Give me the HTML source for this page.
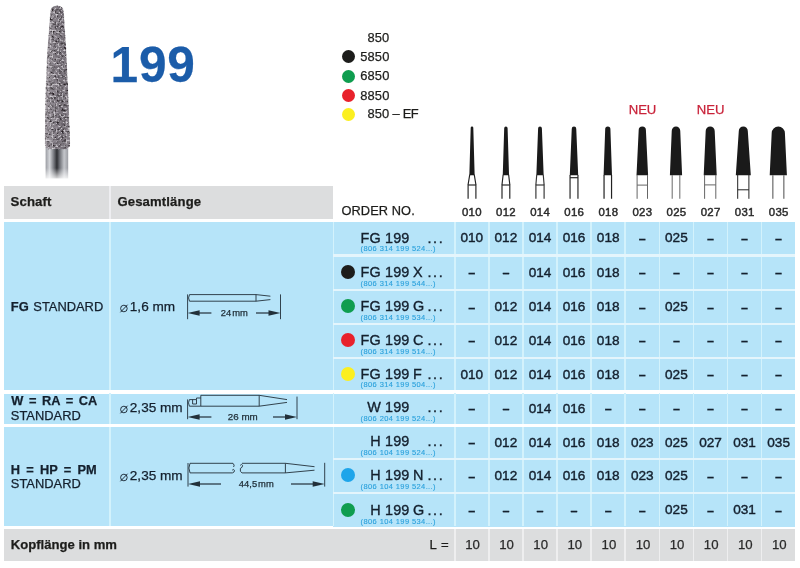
<!DOCTYPE html>
<html lang="de"><head><meta charset="utf-8"><title>199</title>
<style>
html,body{margin:0;padding:0;background:#fff}
body{width:800px;height:568px;position:relative;overflow:hidden;font-family:"Liberation Sans", Arial, Helvetica, sans-serif;}
.r{position:absolute}
.a{position:absolute;overflow:visible}
.t{position:absolute;white-space:nowrap;line-height:20px;height:20px;-webkit-text-stroke:0.25px currentColor}
</style></head><body>
<div class="r" style="left:4.00px;top:186.00px;width:328.80px;height:33.40px;background:#dcddde"></div>
<div class="r" style="left:108.80px;top:186.00px;width:2.20px;height:33.40px;background:#eeeef1"></div>
<div class="r" style="left:4.00px;top:222.20px;width:329.00px;height:168.20px;background:#b6e4f9"></div>
<div class="r" style="left:4.00px;top:393.50px;width:329.00px;height:30.50px;background:#b6e4f9"></div>
<div class="r" style="left:4.00px;top:427.30px;width:329.00px;height:99.20px;background:#b6e4f9"></div>
<div class="r" style="left:333.00px;top:222.20px;width:461.60px;height:32.20px;background:#b6e4f9"></div>
<div class="r" style="left:333.00px;top:256.80px;width:461.60px;height:32.20px;background:#b6e4f9"></div>
<div class="r" style="left:333.00px;top:291.00px;width:461.60px;height:32.00px;background:#b6e4f9"></div>
<div class="r" style="left:333.00px;top:324.80px;width:461.60px;height:32.20px;background:#b6e4f9"></div>
<div class="r" style="left:333.00px;top:358.90px;width:461.60px;height:31.50px;background:#b6e4f9"></div>
<div class="r" style="left:333.00px;top:393.50px;width:461.60px;height:30.50px;background:#b6e4f9"></div>
<div class="r" style="left:333.00px;top:427.30px;width:461.60px;height:30.90px;background:#b6e4f9"></div>
<div class="r" style="left:333.00px;top:460.20px;width:461.60px;height:31.80px;background:#b6e4f9"></div>
<div class="r" style="left:333.00px;top:494.00px;width:461.60px;height:32.50px;background:#b6e4f9"></div>
<div class="r" style="left:4.00px;top:528.80px;width:790.60px;height:32.00px;background:#dcddde"></div>
<div class="r" style="left:109.40px;top:222.20px;width:1.60px;height:304.30px;background:#d3f2fc"></div>
<div class="r" style="left:332.80px;top:222.20px;width:1.50px;height:304.30px;background:#d3f2fc"></div>
<div class="r" style="left:453.95px;top:222.20px;width:1.60px;height:304.30px;background:#d3f2fc"></div>
<div class="r" style="left:453.95px;top:528.80px;width:1.60px;height:32.00px;background:#eeeeef"></div>
<div class="r" style="left:488.05px;top:222.20px;width:1.60px;height:304.30px;background:#d3f2fc"></div>
<div class="r" style="left:488.05px;top:528.80px;width:1.60px;height:32.00px;background:#eeeeef"></div>
<div class="r" style="left:522.15px;top:222.20px;width:1.60px;height:304.30px;background:#d3f2fc"></div>
<div class="r" style="left:522.15px;top:528.80px;width:1.60px;height:32.00px;background:#eeeeef"></div>
<div class="r" style="left:556.25px;top:222.20px;width:1.60px;height:304.30px;background:#d3f2fc"></div>
<div class="r" style="left:556.25px;top:528.80px;width:1.60px;height:32.00px;background:#eeeeef"></div>
<div class="r" style="left:590.35px;top:222.20px;width:1.60px;height:304.30px;background:#d3f2fc"></div>
<div class="r" style="left:590.35px;top:528.80px;width:1.60px;height:32.00px;background:#eeeeef"></div>
<div class="r" style="left:624.45px;top:222.20px;width:1.60px;height:304.30px;background:#d3f2fc"></div>
<div class="r" style="left:624.45px;top:528.80px;width:1.60px;height:32.00px;background:#eeeeef"></div>
<div class="r" style="left:658.55px;top:222.20px;width:1.60px;height:304.30px;background:#d3f2fc"></div>
<div class="r" style="left:658.55px;top:528.80px;width:1.60px;height:32.00px;background:#eeeeef"></div>
<div class="r" style="left:692.65px;top:222.20px;width:1.60px;height:304.30px;background:#d3f2fc"></div>
<div class="r" style="left:692.65px;top:528.80px;width:1.60px;height:32.00px;background:#eeeeef"></div>
<div class="r" style="left:726.75px;top:222.20px;width:1.60px;height:304.30px;background:#d3f2fc"></div>
<div class="r" style="left:726.75px;top:528.80px;width:1.60px;height:32.00px;background:#eeeeef"></div>
<div class="r" style="left:760.85px;top:222.20px;width:1.60px;height:304.30px;background:#d3f2fc"></div>
<div class="r" style="left:760.85px;top:528.80px;width:1.60px;height:32.00px;background:#eeeeef"></div>
<div class="r" style="left:4.00px;top:390.40px;width:791.60px;height:3.10px;background:#fff"></div>
<div class="r" style="left:4.00px;top:424.00px;width:791.60px;height:3.30px;background:#fff"></div>
<div class="r" style="left:4.00px;top:526.50px;width:791.60px;height:2.30px;background:#fff"></div>
<div class="r" style="left:333.00px;top:254.40px;width:461.60px;height:2.40px;background:#e4f5fc"></div>
<div class="r" style="left:333.00px;top:289.00px;width:461.60px;height:2.00px;background:#e4f5fc"></div>
<div class="r" style="left:333.00px;top:323.00px;width:461.60px;height:1.80px;background:#e4f5fc"></div>
<div class="r" style="left:333.00px;top:357.00px;width:461.60px;height:1.90px;background:#e4f5fc"></div>
<div class="r" style="left:333.00px;top:458.20px;width:461.60px;height:2.00px;background:#e4f5fc"></div>
<div class="r" style="left:333.00px;top:492.00px;width:461.60px;height:2.00px;background:#e4f5fc"></div>
<div class="t" style="left:10.60px;top:191.80px;font-size:13.2px;font-weight:700;color:#1d1d1b;letter-spacing:0.1px;">Schaft</div>
<div class="t" style="left:117.40px;top:191.80px;font-size:13.1px;font-weight:700;color:#1d1d1b;letter-spacing:0.15px;">Gesamtlänge</div>
<div class="t" style="left:341.40px;top:200.80px;font-size:12.8px;font-weight:400;color:#1d1d1b;letter-spacing:0.1px;">ORDER NO.</div>
<div class="t" style="left:371.95px;width:200px;text-align:center;top:201.50px;font-size:11.4px;font-weight:400;color:#2b2b2b;letter-spacing:0.3px;-webkit-text-stroke:0.45px;">010</div>
<div class="t" style="left:406.05px;width:200px;text-align:center;top:201.50px;font-size:11.4px;font-weight:400;color:#2b2b2b;letter-spacing:0.3px;-webkit-text-stroke:0.45px;">012</div>
<div class="t" style="left:440.15px;width:200px;text-align:center;top:201.50px;font-size:11.4px;font-weight:400;color:#2b2b2b;letter-spacing:0.3px;-webkit-text-stroke:0.45px;">014</div>
<div class="t" style="left:474.25px;width:200px;text-align:center;top:201.50px;font-size:11.4px;font-weight:400;color:#2b2b2b;letter-spacing:0.3px;-webkit-text-stroke:0.45px;">016</div>
<div class="t" style="left:508.35px;width:200px;text-align:center;top:201.50px;font-size:11.4px;font-weight:400;color:#2b2b2b;letter-spacing:0.3px;-webkit-text-stroke:0.45px;">018</div>
<div class="t" style="left:542.45px;width:200px;text-align:center;top:201.50px;font-size:11.4px;font-weight:400;color:#2b2b2b;letter-spacing:0.3px;-webkit-text-stroke:0.45px;">023</div>
<div class="t" style="left:576.55px;width:200px;text-align:center;top:201.50px;font-size:11.4px;font-weight:400;color:#2b2b2b;letter-spacing:0.3px;-webkit-text-stroke:0.45px;">025</div>
<div class="t" style="left:610.65px;width:200px;text-align:center;top:201.50px;font-size:11.4px;font-weight:400;color:#2b2b2b;letter-spacing:0.3px;-webkit-text-stroke:0.45px;">027</div>
<div class="t" style="left:644.75px;width:200px;text-align:center;top:201.50px;font-size:11.4px;font-weight:400;color:#2b2b2b;letter-spacing:0.3px;-webkit-text-stroke:0.45px;">031</div>
<div class="t" style="left:678.77px;width:200px;text-align:center;top:201.50px;font-size:11.4px;font-weight:400;color:#2b2b2b;letter-spacing:0.3px;-webkit-text-stroke:0.45px;">035</div>
<div class="t" style="left:10.80px;top:534.60px;font-size:13.1px;font-weight:700;color:#1d1d1b;">Kopflänge in mm</div>
<div class="t" style="left:148.80px;width:300px;text-align:right;top:535.40px;font-size:13.2px;font-weight:400;color:#1d1d1b;word-spacing:1px;">L =</div>
<div class="t" style="left:372.50px;width:200px;text-align:center;top:535.40px;font-size:13.2px;font-weight:400;color:#2a2a2a;">10</div>
<div class="t" style="left:406.60px;width:200px;text-align:center;top:535.40px;font-size:13.2px;font-weight:400;color:#2a2a2a;">10</div>
<div class="t" style="left:440.70px;width:200px;text-align:center;top:535.40px;font-size:13.2px;font-weight:400;color:#2a2a2a;">10</div>
<div class="t" style="left:474.80px;width:200px;text-align:center;top:535.40px;font-size:13.2px;font-weight:400;color:#2a2a2a;">10</div>
<div class="t" style="left:508.90px;width:200px;text-align:center;top:535.40px;font-size:13.2px;font-weight:400;color:#2a2a2a;">10</div>
<div class="t" style="left:543.00px;width:200px;text-align:center;top:535.40px;font-size:13.2px;font-weight:400;color:#2a2a2a;">10</div>
<div class="t" style="left:577.10px;width:200px;text-align:center;top:535.40px;font-size:13.2px;font-weight:400;color:#2a2a2a;">10</div>
<div class="t" style="left:611.20px;width:200px;text-align:center;top:535.40px;font-size:13.2px;font-weight:400;color:#2a2a2a;">10</div>
<div class="t" style="left:645.30px;width:200px;text-align:center;top:535.40px;font-size:13.2px;font-weight:400;color:#2a2a2a;">10</div>
<div class="t" style="left:679.33px;width:200px;text-align:center;top:535.40px;font-size:13.2px;font-weight:400;color:#2a2a2a;">10</div>
<div class="t" style="left:10.80px;top:296.80px;font-size:12.9px;font-weight:400;color:#14202e;word-spacing:1px;"><b>FG</b> STANDARD</div>
<div class="t" style="left:11.20px;top:391.30px;font-size:12.8px;font-weight:400;color:#14202e;word-spacing:2.1px;"><b>W = RA = CA</b></div>
<div class="t" style="left:10.80px;top:406.30px;font-size:12.9px;font-weight:400;color:#14202e;">STANDARD</div>
<div class="t" style="left:10.80px;top:459.60px;font-size:12.8px;font-weight:400;color:#14202e;word-spacing:2.7px;"><b>H = HP = PM</b></div>
<div class="t" style="left:10.80px;top:473.80px;font-size:12.9px;font-weight:400;color:#14202e;">STANDARD</div>
<svg class="a" style="left:119.50px;top:301.80px" width="10" height="10" viewBox="0 0 10 10"><circle cx="3.9" cy="6.5" r="3.3" fill="none" stroke="#14202e" stroke-width="0.9"/><path d="M0.4 10.3 L7.6 2.7" stroke="#14202e" stroke-width="0.9"/></svg>
<div class="t" style="left:129.80px;top:296.80px;font-size:13.6px;font-weight:400;color:#14202e;">1,6 mm</div>
<svg class="a" style="left:119.50px;top:403.20px" width="10" height="10" viewBox="0 0 10 10"><circle cx="3.9" cy="6.5" r="3.3" fill="none" stroke="#14202e" stroke-width="0.9"/><path d="M0.4 10.3 L7.6 2.7" stroke="#14202e" stroke-width="0.9"/></svg>
<div class="t" style="left:129.80px;top:398.20px;font-size:13.6px;font-weight:400;color:#14202e;">2,35 mm</div>
<svg class="a" style="left:119.50px;top:471.30px" width="10" height="10" viewBox="0 0 10 10"><circle cx="3.9" cy="6.5" r="3.3" fill="none" stroke="#14202e" stroke-width="0.9"/><path d="M0.4 10.3 L7.6 2.7" stroke="#14202e" stroke-width="0.9"/></svg>
<div class="t" style="left:129.80px;top:466.30px;font-size:13.6px;font-weight:400;color:#14202e;">2,35 mm</div>
<div class="t" style="left:109.50px;width:300px;text-align:right;top:227.50px;font-size:14.4px;font-weight:400;color:#14202e;letter-spacing:0.15px;-webkit-text-stroke:0.35px;">FG 199</div>
<div class="t" style="left:427.40px;top:227.50px;font-size:14.4px;font-weight:400;color:#14202e;letter-spacing:1.7px;-webkit-text-stroke:0.35px;">...</div>
<div class="t" style="left:360.60px;top:239.40px;font-size:7.5px;font-weight:400;color:#2ba1dc;letter-spacing:0.39px;-webkit-text-stroke:0.12px;">(806 314 199 524...)</div>
<div class="t" style="left:371.80px;width:200px;text-align:center;top:228.20px;font-size:13.6px;font-weight:400;color:#14202e;-webkit-text-stroke:0.4px;">010</div>
<div class="t" style="left:405.90px;width:200px;text-align:center;top:228.20px;font-size:13.6px;font-weight:400;color:#14202e;-webkit-text-stroke:0.4px;">012</div>
<div class="t" style="left:440.00px;width:200px;text-align:center;top:228.20px;font-size:13.6px;font-weight:400;color:#14202e;-webkit-text-stroke:0.4px;">014</div>
<div class="t" style="left:474.10px;width:200px;text-align:center;top:228.20px;font-size:13.6px;font-weight:400;color:#14202e;-webkit-text-stroke:0.4px;">016</div>
<div class="t" style="left:508.20px;width:200px;text-align:center;top:228.20px;font-size:13.6px;font-weight:400;color:#14202e;-webkit-text-stroke:0.4px;">018</div>
<div class="t" style="left:542.30px;width:200px;text-align:center;top:228.80px;font-size:12.6px;font-weight:700;color:#14202e;">–</div>
<div class="t" style="left:576.40px;width:200px;text-align:center;top:228.20px;font-size:13.6px;font-weight:400;color:#14202e;-webkit-text-stroke:0.4px;">025</div>
<div class="t" style="left:610.50px;width:200px;text-align:center;top:228.80px;font-size:12.6px;font-weight:700;color:#14202e;">–</div>
<div class="t" style="left:644.60px;width:200px;text-align:center;top:228.80px;font-size:12.6px;font-weight:700;color:#14202e;">–</div>
<div class="t" style="left:678.62px;width:200px;text-align:center;top:228.80px;font-size:12.6px;font-weight:700;color:#14202e;">–</div>
<div class="t" style="left:109.50px;width:300px;text-align:right;top:262.10px;font-size:14.4px;font-weight:400;color:#14202e;letter-spacing:0.15px;-webkit-text-stroke:0.35px;">FG 199</div>
<div class="t" style="left:413.00px;top:262.10px;font-size:14.4px;font-weight:400;color:#14202e;-webkit-text-stroke:0.35px;">X</div>
<div class="t" style="left:427.40px;top:262.10px;font-size:14.4px;font-weight:400;color:#14202e;letter-spacing:1.7px;-webkit-text-stroke:0.35px;">...</div>
<div class="t" style="left:360.60px;top:274.00px;font-size:7.5px;font-weight:400;color:#2ba1dc;letter-spacing:0.39px;-webkit-text-stroke:0.12px;">(806 314 199 544...)</div>
<div class="r" style="left:340.60px;top:265.40px;width:14px;height:14px;border-radius:50%;background:#1d1d1b"></div>
<div class="t" style="left:371.80px;width:200px;text-align:center;top:263.40px;font-size:12.6px;font-weight:700;color:#14202e;">–</div>
<div class="t" style="left:405.90px;width:200px;text-align:center;top:263.40px;font-size:12.6px;font-weight:700;color:#14202e;">–</div>
<div class="t" style="left:440.00px;width:200px;text-align:center;top:262.80px;font-size:13.6px;font-weight:400;color:#14202e;-webkit-text-stroke:0.4px;">014</div>
<div class="t" style="left:474.10px;width:200px;text-align:center;top:262.80px;font-size:13.6px;font-weight:400;color:#14202e;-webkit-text-stroke:0.4px;">016</div>
<div class="t" style="left:508.20px;width:200px;text-align:center;top:262.80px;font-size:13.6px;font-weight:400;color:#14202e;-webkit-text-stroke:0.4px;">018</div>
<div class="t" style="left:542.30px;width:200px;text-align:center;top:263.40px;font-size:12.6px;font-weight:700;color:#14202e;">–</div>
<div class="t" style="left:576.40px;width:200px;text-align:center;top:263.40px;font-size:12.6px;font-weight:700;color:#14202e;">–</div>
<div class="t" style="left:610.50px;width:200px;text-align:center;top:263.40px;font-size:12.6px;font-weight:700;color:#14202e;">–</div>
<div class="t" style="left:644.60px;width:200px;text-align:center;top:263.40px;font-size:12.6px;font-weight:700;color:#14202e;">–</div>
<div class="t" style="left:678.62px;width:200px;text-align:center;top:263.40px;font-size:12.6px;font-weight:700;color:#14202e;">–</div>
<div class="t" style="left:109.50px;width:300px;text-align:right;top:296.10px;font-size:14.4px;font-weight:400;color:#14202e;letter-spacing:0.15px;-webkit-text-stroke:0.35px;">FG 199</div>
<div class="t" style="left:413.00px;top:296.10px;font-size:14.4px;font-weight:400;color:#14202e;-webkit-text-stroke:0.35px;">G</div>
<div class="t" style="left:427.40px;top:296.10px;font-size:14.4px;font-weight:400;color:#14202e;letter-spacing:1.7px;-webkit-text-stroke:0.35px;">...</div>
<div class="t" style="left:360.60px;top:308.00px;font-size:7.5px;font-weight:400;color:#2ba1dc;letter-spacing:0.39px;-webkit-text-stroke:0.12px;">(806 314 199 534...)</div>
<div class="r" style="left:340.60px;top:299.40px;width:14px;height:14px;border-radius:50%;background:#0f9d4f"></div>
<div class="t" style="left:371.80px;width:200px;text-align:center;top:297.50px;font-size:12.6px;font-weight:700;color:#14202e;">–</div>
<div class="t" style="left:405.90px;width:200px;text-align:center;top:296.90px;font-size:13.6px;font-weight:400;color:#14202e;-webkit-text-stroke:0.4px;">012</div>
<div class="t" style="left:440.00px;width:200px;text-align:center;top:296.90px;font-size:13.6px;font-weight:400;color:#14202e;-webkit-text-stroke:0.4px;">014</div>
<div class="t" style="left:474.10px;width:200px;text-align:center;top:296.90px;font-size:13.6px;font-weight:400;color:#14202e;-webkit-text-stroke:0.4px;">016</div>
<div class="t" style="left:508.20px;width:200px;text-align:center;top:296.90px;font-size:13.6px;font-weight:400;color:#14202e;-webkit-text-stroke:0.4px;">018</div>
<div class="t" style="left:542.30px;width:200px;text-align:center;top:297.50px;font-size:12.6px;font-weight:700;color:#14202e;">–</div>
<div class="t" style="left:576.40px;width:200px;text-align:center;top:296.90px;font-size:13.6px;font-weight:400;color:#14202e;-webkit-text-stroke:0.4px;">025</div>
<div class="t" style="left:610.50px;width:200px;text-align:center;top:297.50px;font-size:12.6px;font-weight:700;color:#14202e;">–</div>
<div class="t" style="left:644.60px;width:200px;text-align:center;top:297.50px;font-size:12.6px;font-weight:700;color:#14202e;">–</div>
<div class="t" style="left:678.62px;width:200px;text-align:center;top:297.50px;font-size:12.6px;font-weight:700;color:#14202e;">–</div>
<div class="t" style="left:109.50px;width:300px;text-align:right;top:330.10px;font-size:14.4px;font-weight:400;color:#14202e;letter-spacing:0.15px;-webkit-text-stroke:0.35px;">FG 199</div>
<div class="t" style="left:413.00px;top:330.10px;font-size:14.4px;font-weight:400;color:#14202e;-webkit-text-stroke:0.35px;">C</div>
<div class="t" style="left:427.40px;top:330.10px;font-size:14.4px;font-weight:400;color:#14202e;letter-spacing:1.7px;-webkit-text-stroke:0.35px;">...</div>
<div class="t" style="left:360.60px;top:342.00px;font-size:7.5px;font-weight:400;color:#2ba1dc;letter-spacing:0.39px;-webkit-text-stroke:0.12px;">(806 314 199 514...)</div>
<div class="r" style="left:340.60px;top:333.40px;width:14px;height:14px;border-radius:50%;background:#e8212b"></div>
<div class="t" style="left:371.80px;width:200px;text-align:center;top:331.40px;font-size:12.6px;font-weight:700;color:#14202e;">–</div>
<div class="t" style="left:405.90px;width:200px;text-align:center;top:330.80px;font-size:13.6px;font-weight:400;color:#14202e;-webkit-text-stroke:0.4px;">012</div>
<div class="t" style="left:440.00px;width:200px;text-align:center;top:330.80px;font-size:13.6px;font-weight:400;color:#14202e;-webkit-text-stroke:0.4px;">014</div>
<div class="t" style="left:474.10px;width:200px;text-align:center;top:330.80px;font-size:13.6px;font-weight:400;color:#14202e;-webkit-text-stroke:0.4px;">016</div>
<div class="t" style="left:508.20px;width:200px;text-align:center;top:330.80px;font-size:13.6px;font-weight:400;color:#14202e;-webkit-text-stroke:0.4px;">018</div>
<div class="t" style="left:542.30px;width:200px;text-align:center;top:331.40px;font-size:12.6px;font-weight:700;color:#14202e;">–</div>
<div class="t" style="left:576.40px;width:200px;text-align:center;top:331.40px;font-size:12.6px;font-weight:700;color:#14202e;">–</div>
<div class="t" style="left:610.50px;width:200px;text-align:center;top:331.40px;font-size:12.6px;font-weight:700;color:#14202e;">–</div>
<div class="t" style="left:644.60px;width:200px;text-align:center;top:331.40px;font-size:12.6px;font-weight:700;color:#14202e;">–</div>
<div class="t" style="left:678.62px;width:200px;text-align:center;top:331.40px;font-size:12.6px;font-weight:700;color:#14202e;">–</div>
<div class="t" style="left:109.50px;width:300px;text-align:right;top:363.50px;font-size:14.4px;font-weight:400;color:#14202e;letter-spacing:0.15px;-webkit-text-stroke:0.35px;">FG 199</div>
<div class="t" style="left:413.00px;top:363.50px;font-size:14.4px;font-weight:400;color:#14202e;-webkit-text-stroke:0.35px;">F</div>
<div class="t" style="left:427.40px;top:363.50px;font-size:14.4px;font-weight:400;color:#14202e;letter-spacing:1.7px;-webkit-text-stroke:0.35px;">...</div>
<div class="t" style="left:360.60px;top:375.40px;font-size:7.5px;font-weight:400;color:#2ba1dc;letter-spacing:0.39px;-webkit-text-stroke:0.12px;">(806 314 199 504...)</div>
<div class="r" style="left:340.60px;top:366.80px;width:14px;height:14px;border-radius:50%;background:#fbef20"></div>
<div class="t" style="left:371.80px;width:200px;text-align:center;top:364.55px;font-size:13.6px;font-weight:400;color:#14202e;-webkit-text-stroke:0.4px;">010</div>
<div class="t" style="left:405.90px;width:200px;text-align:center;top:364.55px;font-size:13.6px;font-weight:400;color:#14202e;-webkit-text-stroke:0.4px;">012</div>
<div class="t" style="left:440.00px;width:200px;text-align:center;top:364.55px;font-size:13.6px;font-weight:400;color:#14202e;-webkit-text-stroke:0.4px;">014</div>
<div class="t" style="left:474.10px;width:200px;text-align:center;top:364.55px;font-size:13.6px;font-weight:400;color:#14202e;-webkit-text-stroke:0.4px;">016</div>
<div class="t" style="left:508.20px;width:200px;text-align:center;top:364.55px;font-size:13.6px;font-weight:400;color:#14202e;-webkit-text-stroke:0.4px;">018</div>
<div class="t" style="left:542.30px;width:200px;text-align:center;top:365.15px;font-size:12.6px;font-weight:700;color:#14202e;">–</div>
<div class="t" style="left:576.40px;width:200px;text-align:center;top:364.55px;font-size:13.6px;font-weight:400;color:#14202e;-webkit-text-stroke:0.4px;">025</div>
<div class="t" style="left:610.50px;width:200px;text-align:center;top:365.15px;font-size:12.6px;font-weight:700;color:#14202e;">–</div>
<div class="t" style="left:644.60px;width:200px;text-align:center;top:365.15px;font-size:12.6px;font-weight:700;color:#14202e;">–</div>
<div class="t" style="left:678.62px;width:200px;text-align:center;top:365.15px;font-size:12.6px;font-weight:700;color:#14202e;">–</div>
<div class="t" style="left:109.50px;width:300px;text-align:right;top:397.10px;font-size:14.4px;font-weight:400;color:#14202e;letter-spacing:0.15px;-webkit-text-stroke:0.35px;">W 199</div>
<div class="t" style="left:427.40px;top:397.10px;font-size:14.4px;font-weight:400;color:#14202e;letter-spacing:1.7px;-webkit-text-stroke:0.35px;">...</div>
<div class="t" style="left:360.60px;top:409.00px;font-size:7.5px;font-weight:400;color:#2ba1dc;letter-spacing:0.39px;-webkit-text-stroke:0.12px;">(806 204 199 524...)</div>
<div class="t" style="left:371.80px;width:200px;text-align:center;top:399.25px;font-size:12.6px;font-weight:700;color:#14202e;">–</div>
<div class="t" style="left:405.90px;width:200px;text-align:center;top:399.25px;font-size:12.6px;font-weight:700;color:#14202e;">–</div>
<div class="t" style="left:440.00px;width:200px;text-align:center;top:398.65px;font-size:13.6px;font-weight:400;color:#14202e;-webkit-text-stroke:0.4px;">014</div>
<div class="t" style="left:474.10px;width:200px;text-align:center;top:398.65px;font-size:13.6px;font-weight:400;color:#14202e;-webkit-text-stroke:0.4px;">016</div>
<div class="t" style="left:508.20px;width:200px;text-align:center;top:399.25px;font-size:12.6px;font-weight:700;color:#14202e;">–</div>
<div class="t" style="left:542.30px;width:200px;text-align:center;top:399.25px;font-size:12.6px;font-weight:700;color:#14202e;">–</div>
<div class="t" style="left:576.40px;width:200px;text-align:center;top:399.25px;font-size:12.6px;font-weight:700;color:#14202e;">–</div>
<div class="t" style="left:610.50px;width:200px;text-align:center;top:399.25px;font-size:12.6px;font-weight:700;color:#14202e;">–</div>
<div class="t" style="left:644.60px;width:200px;text-align:center;top:399.25px;font-size:12.6px;font-weight:700;color:#14202e;">–</div>
<div class="t" style="left:678.62px;width:200px;text-align:center;top:399.25px;font-size:12.6px;font-weight:700;color:#14202e;">–</div>
<div class="t" style="left:109.50px;width:300px;text-align:right;top:431.30px;font-size:14.4px;font-weight:400;color:#14202e;letter-spacing:0.15px;-webkit-text-stroke:0.35px;">H 199</div>
<div class="t" style="left:427.40px;top:431.30px;font-size:14.4px;font-weight:400;color:#14202e;letter-spacing:1.7px;-webkit-text-stroke:0.35px;">...</div>
<div class="t" style="left:360.60px;top:443.20px;font-size:7.5px;font-weight:400;color:#2ba1dc;letter-spacing:0.39px;-webkit-text-stroke:0.12px;">(806 104 199 524...)</div>
<div class="t" style="left:371.80px;width:200px;text-align:center;top:433.25px;font-size:12.6px;font-weight:700;color:#14202e;">–</div>
<div class="t" style="left:405.90px;width:200px;text-align:center;top:432.65px;font-size:13.6px;font-weight:400;color:#14202e;-webkit-text-stroke:0.4px;">012</div>
<div class="t" style="left:440.00px;width:200px;text-align:center;top:432.65px;font-size:13.6px;font-weight:400;color:#14202e;-webkit-text-stroke:0.4px;">014</div>
<div class="t" style="left:474.10px;width:200px;text-align:center;top:432.65px;font-size:13.6px;font-weight:400;color:#14202e;-webkit-text-stroke:0.4px;">016</div>
<div class="t" style="left:508.20px;width:200px;text-align:center;top:432.65px;font-size:13.6px;font-weight:400;color:#14202e;-webkit-text-stroke:0.4px;">018</div>
<div class="t" style="left:542.30px;width:200px;text-align:center;top:432.65px;font-size:13.6px;font-weight:400;color:#14202e;-webkit-text-stroke:0.4px;">023</div>
<div class="t" style="left:576.40px;width:200px;text-align:center;top:432.65px;font-size:13.6px;font-weight:400;color:#14202e;-webkit-text-stroke:0.4px;">025</div>
<div class="t" style="left:610.50px;width:200px;text-align:center;top:432.65px;font-size:13.6px;font-weight:400;color:#14202e;-webkit-text-stroke:0.4px;">027</div>
<div class="t" style="left:644.60px;width:200px;text-align:center;top:432.65px;font-size:13.6px;font-weight:400;color:#14202e;-webkit-text-stroke:0.4px;">031</div>
<div class="t" style="left:678.62px;width:200px;text-align:center;top:432.65px;font-size:13.6px;font-weight:400;color:#14202e;-webkit-text-stroke:0.4px;">035</div>
<div class="t" style="left:109.50px;width:300px;text-align:right;top:465.10px;font-size:14.4px;font-weight:400;color:#14202e;letter-spacing:0.15px;-webkit-text-stroke:0.35px;">H 199</div>
<div class="t" style="left:413.00px;top:465.10px;font-size:14.4px;font-weight:400;color:#14202e;-webkit-text-stroke:0.35px;">N</div>
<div class="t" style="left:427.40px;top:465.10px;font-size:14.4px;font-weight:400;color:#14202e;letter-spacing:1.7px;-webkit-text-stroke:0.35px;">...</div>
<div class="t" style="left:360.60px;top:477.00px;font-size:7.5px;font-weight:400;color:#2ba1dc;letter-spacing:0.39px;-webkit-text-stroke:0.12px;">(806 104 199 524...)</div>
<div class="r" style="left:340.60px;top:468.40px;width:14px;height:14px;border-radius:50%;background:#1ea5ea"></div>
<div class="t" style="left:371.80px;width:200px;text-align:center;top:466.60px;font-size:12.6px;font-weight:700;color:#14202e;">–</div>
<div class="t" style="left:405.90px;width:200px;text-align:center;top:466.00px;font-size:13.6px;font-weight:400;color:#14202e;-webkit-text-stroke:0.4px;">012</div>
<div class="t" style="left:440.00px;width:200px;text-align:center;top:466.00px;font-size:13.6px;font-weight:400;color:#14202e;-webkit-text-stroke:0.4px;">014</div>
<div class="t" style="left:474.10px;width:200px;text-align:center;top:466.00px;font-size:13.6px;font-weight:400;color:#14202e;-webkit-text-stroke:0.4px;">016</div>
<div class="t" style="left:508.20px;width:200px;text-align:center;top:466.00px;font-size:13.6px;font-weight:400;color:#14202e;-webkit-text-stroke:0.4px;">018</div>
<div class="t" style="left:542.30px;width:200px;text-align:center;top:466.00px;font-size:13.6px;font-weight:400;color:#14202e;-webkit-text-stroke:0.4px;">023</div>
<div class="t" style="left:576.40px;width:200px;text-align:center;top:466.00px;font-size:13.6px;font-weight:400;color:#14202e;-webkit-text-stroke:0.4px;">025</div>
<div class="t" style="left:610.50px;width:200px;text-align:center;top:466.60px;font-size:12.6px;font-weight:700;color:#14202e;">–</div>
<div class="t" style="left:644.60px;width:200px;text-align:center;top:466.60px;font-size:12.6px;font-weight:700;color:#14202e;">–</div>
<div class="t" style="left:678.62px;width:200px;text-align:center;top:466.60px;font-size:12.6px;font-weight:700;color:#14202e;">–</div>
<div class="t" style="left:109.50px;width:300px;text-align:right;top:499.60px;font-size:14.4px;font-weight:400;color:#14202e;letter-spacing:0.15px;-webkit-text-stroke:0.35px;">H 199</div>
<div class="t" style="left:413.00px;top:499.60px;font-size:14.4px;font-weight:400;color:#14202e;-webkit-text-stroke:0.35px;">G</div>
<div class="t" style="left:427.40px;top:499.60px;font-size:14.4px;font-weight:400;color:#14202e;letter-spacing:1.7px;-webkit-text-stroke:0.35px;">...</div>
<div class="t" style="left:360.60px;top:511.50px;font-size:7.5px;font-weight:400;color:#2ba1dc;letter-spacing:0.39px;-webkit-text-stroke:0.12px;">(806 104 199 534...)</div>
<div class="r" style="left:340.60px;top:502.90px;width:14px;height:14px;border-radius:50%;background:#0f9d4f"></div>
<div class="t" style="left:371.80px;width:200px;text-align:center;top:500.75px;font-size:12.6px;font-weight:700;color:#14202e;">–</div>
<div class="t" style="left:405.90px;width:200px;text-align:center;top:500.75px;font-size:12.6px;font-weight:700;color:#14202e;">–</div>
<div class="t" style="left:440.00px;width:200px;text-align:center;top:500.75px;font-size:12.6px;font-weight:700;color:#14202e;">–</div>
<div class="t" style="left:474.10px;width:200px;text-align:center;top:500.75px;font-size:12.6px;font-weight:700;color:#14202e;">–</div>
<div class="t" style="left:508.20px;width:200px;text-align:center;top:500.75px;font-size:12.6px;font-weight:700;color:#14202e;">–</div>
<div class="t" style="left:542.30px;width:200px;text-align:center;top:500.75px;font-size:12.6px;font-weight:700;color:#14202e;">–</div>
<div class="t" style="left:576.40px;width:200px;text-align:center;top:500.15px;font-size:13.6px;font-weight:400;color:#14202e;-webkit-text-stroke:0.4px;">025</div>
<div class="t" style="left:610.50px;width:200px;text-align:center;top:500.75px;font-size:12.6px;font-weight:700;color:#14202e;">–</div>
<div class="t" style="left:644.60px;width:200px;text-align:center;top:500.15px;font-size:13.6px;font-weight:400;color:#14202e;-webkit-text-stroke:0.4px;">031</div>
<div class="t" style="left:678.62px;width:200px;text-align:center;top:500.75px;font-size:12.6px;font-weight:700;color:#14202e;">–</div>
<div class="t" style="left:367.40px;top:27.50px;font-size:12.9px;font-weight:400;color:#1d1d1b;letter-spacing:0.15px;word-spacing:-0.7px;">850</div>
<div class="r" style="left:341.70px;top:50.10px;width:13.4px;height:13.4px;border-radius:50%;background:#1d1d1b"></div>
<div class="t" style="left:360.20px;top:46.60px;font-size:12.9px;font-weight:400;color:#1d1d1b;letter-spacing:0.15px;word-spacing:-0.7px;">5850</div>
<div class="r" style="left:341.70px;top:69.50px;width:13.4px;height:13.4px;border-radius:50%;background:#0f9d4f"></div>
<div class="t" style="left:360.20px;top:66.00px;font-size:12.9px;font-weight:400;color:#1d1d1b;letter-spacing:0.15px;word-spacing:-0.7px;">6850</div>
<div class="r" style="left:341.70px;top:89.00px;width:13.4px;height:13.4px;border-radius:50%;background:#e8212b"></div>
<div class="t" style="left:360.20px;top:85.50px;font-size:12.9px;font-weight:400;color:#1d1d1b;letter-spacing:0.15px;word-spacing:-0.7px;">8850</div>
<div class="r" style="left:341.70px;top:107.90px;width:13.4px;height:13.4px;border-radius:50%;background:#fbef20"></div>
<div class="t" style="left:367.40px;top:104.40px;font-size:12.9px;font-weight:400;color:#1d1d1b;letter-spacing:0.15px;word-spacing:-0.7px;">850 – <span style="letter-spacing:-0.55px">EF</span></div>
<div class="t" style="left:542.50px;width:200px;text-align:center;top:100.20px;font-size:13.1px;font-weight:400;color:#c9233a;">NEU</div>
<div class="t" style="left:610.70px;width:200px;text-align:center;top:100.20px;font-size:13.1px;font-weight:400;color:#c9233a;">NEU</div>
<div class="t" style="left:110.6px;top:34.6px;line-height:60px;font-size:49.6px;letter-spacing:0.7px;font-weight:700;color:#1b5ca9">199</div>
<svg class="a" style="left:0;top:0" width="800" height="568" viewBox="0 0 800 568">
<defs>
<filter id="grit" x="0" y="0" width="100%" height="100%">
<feTurbulence type="fractalNoise" baseFrequency="0.42" numOctaves="2" seed="7" result="n"/>
<feColorMatrix in="n" type="matrix" values="0 0 0 0 0  0 0 0 0 0  0 0 0 0 0  3.2 0 0 0 -1.45" result="a"/>
<feFlood flood-color="#2a2428" result="f"/>
<feComposite in="f" in2="a" operator="in" result="sp"/>
<feTurbulence type="fractalNoise" baseFrequency="0.5" numOctaves="2" seed="3" result="n2"/>
<feColorMatrix in="n2" type="matrix" values="0 0 0 0 0  0 0 0 0 0  0 0 0 0 0  0 3.4 0 0 -1.75" result="a2"/>
<feFlood flood-color="#d9d5da" result="f2"/>
<feComposite in="f2" in2="a2" operator="in" result="sp2"/>
<feMerge><feMergeNode in="SourceGraphic"/><feMergeNode in="sp"/><feMergeNode in="sp2"/></feMerge>
<feComposite in2="SourceGraphic" operator="in"/>
</filter>
<linearGradient id="gb" x1="0" x2="1" y1="0" y2="0">
<stop offset="0" stop-color="#a8a2a8"/><stop offset="0.3" stop-color="#8e8890"/><stop offset="0.65" stop-color="#7a747c"/><stop offset="1" stop-color="#8f8990"/>
</linearGradient>
<linearGradient id="gs" x1="0" x2="1" y1="0" y2="0">
<stop offset="0" stop-color="#9a9ca2"/><stop offset="0.18" stop-color="#d4d6da"/><stop offset="0.36" stop-color="#77797f"/><stop offset="0.5" stop-color="#2e2f33"/><stop offset="0.62" stop-color="#6d6f75"/><stop offset="0.82" stop-color="#c4c6cb"/><stop offset="1" stop-color="#9b9da3"/>
</linearGradient>
<linearGradient id="gf" x1="0" x2="0" y1="0" y2="1">
<stop offset="0" stop-color="#fff" stop-opacity="0"/><stop offset="1" stop-color="#fff" stop-opacity="0.85"/>
</linearGradient>
</defs>
<rect x="45.6" y="147" width="22.6" height="31.5" fill="url(#gs)"/>
<rect x="44" y="168" width="26" height="11" fill="url(#gf)"/>
<path d="M50.3 11.5 Q50.5 5.5 57 5.5 Q63.5 5.5 63.8 11.5 L66.3 50 L68.4 95 L70.1 142 Q70.3 148 67 149.2 L48 149.2 Q44.6 148 44.8 142 L45.4 95 L47.3 50 Z" fill="url(#gb)" filter="url(#grit)"/>
<path d="M469.35 175.2 L470.70 127.80 A1.30 1.30 0 0 1 473.30 127.80 L474.65 175.2 Z" fill="#1a1a1a"/>
<path d="M469.75 174.7 L468.10 184.6 M474.25 174.7 L475.90 184.6" stroke="#222" stroke-width="1.15" fill="none"/>
<path d="M468.10 184.29999999999998 V198.8 M475.90 184.29999999999998 V198.8" stroke="#222" stroke-width="1.15" fill="none"/>
<path d="M468.10 185.0 H475.90" stroke="#222" stroke-width="1.15" fill="none"/>
<path d="M502.75 175.2 L504.20 128.20 A1.70 1.70 0 0 1 507.60 128.20 L509.05 175.2 Z" fill="#1a1a1a"/>
<path d="M503.15 174.7 L502.00 184.6 M508.65 174.7 L509.80 184.6" stroke="#222" stroke-width="1.15" fill="none"/>
<path d="M502.00 184.29999999999998 V198.8 M509.80 184.29999999999998 V198.8" stroke="#222" stroke-width="1.15" fill="none"/>
<path d="M502.00 185.0 H509.80" stroke="#222" stroke-width="1.15" fill="none"/>
<path d="M536.35 175.2 L538.10 128.40 A1.90 1.90 0 0 1 541.90 128.40 L543.65 175.2 Z" fill="#1a1a1a"/>
<path d="M536.75 174.7 L535.90 184.6 M543.25 174.7 L544.10 184.6" stroke="#333" stroke-width="1.15" fill="none"/>
<path d="M535.90 184.29999999999998 V198.8 M544.10 184.29999999999998 V198.8" stroke="#333" stroke-width="1.15" fill="none"/>
<path d="M535.90 185.0 H544.10" stroke="#333" stroke-width="1.15" fill="none"/>
<path d="M569.80 175.2 L571.75 128.75 A2.25 2.25 0 0 1 576.25 128.75 L578.20 175.2 Z" fill="#1a1a1a"/>
<path d="M570.05 174.89999999999998 V198.8 M577.95 174.89999999999998 V198.8" stroke="#222" stroke-width="1.15" fill="none"/>
<path d="M570.05 177.7 H577.95" stroke="#222" stroke-width="1.15" fill="none"/>
<path d="M603.60 175.2 L605.20 129.10 A2.60 2.60 0 0 1 610.40 129.10 L612.00 175.2 Z" fill="#1a1a1a"/>
<path d="M604.05 174.89999999999998 V198.8 M611.55 174.89999999999998 V198.8" stroke="#222" stroke-width="1.2" fill="none"/>
<path d="M636.50 175.2 L638.70 130.10 A3.60 3.60 0 0 1 645.90 130.10 L648.10 175.2 Z" fill="#1a1a1a"/>
<path d="M637.10 174.89999999999998 V198.8 M647.50 174.89999999999998 V198.8" stroke="#666" stroke-width="1.0" fill="none"/>
<path d="M637.10 185.1 H647.50" stroke="#666" stroke-width="1.0" fill="none"/>
<path d="M669.90 175.2 L671.75 130.75 A4.25 4.25 0 0 1 680.25 130.75 L682.10 175.2 Z" fill="#1a1a1a"/>
<path d="M672.20 174.89999999999998 V198.8 M679.80 174.89999999999998 V198.8" stroke="#777" stroke-width="1.1" fill="none"/>
<path d="M703.70 175.2 L705.70 131.00 A4.50 4.50 0 0 1 714.70 131.00 L716.70 175.2 Z" fill="#1a1a1a"/>
<path d="M704.60 174.89999999999998 V198.8 M715.80 174.89999999999998 V198.8" stroke="#666" stroke-width="1.0" fill="none"/>
<path d="M704.60 184.9 H715.80" stroke="#666" stroke-width="1.0" fill="none"/>
<path d="M735.80 175.2 L738.80 131.00 A4.50 4.50 0 0 1 747.80 131.00 L750.80 175.2 Z" fill="#1a1a1a"/>
<path d="M737.70 174.89999999999998 V198.8 M748.90 174.89999999999998 V198.8" stroke="#222" stroke-width="1.0" fill="none"/>
<path d="M737.70 189.8 H748.90" stroke="#222" stroke-width="1.0" fill="none"/>
<path d="M769.70 175.2 L771.70 133.10 A6.60 6.60 0 0 1 784.90 133.10 L786.90 175.2 Z" fill="#1a1a1a"/>
<path d="M772.80 174.89999999999998 V198.8 M783.80 174.89999999999998 V198.8" stroke="#888" stroke-width="1.5" fill="none"/>
<path d="M187.6 294.4 V319.2 M280.5 294.4 V319.2" stroke="#22303a" stroke-width="0.9" fill="none"/>
<path d="M189.5 294.6 H256 V301.2 H189.5 Q187.6 298 189.5 294.6 Z M256 294.6 L270.4 296.2 M256 301.2 L270.4 299.6" stroke="#22303a" stroke-width="0.9" fill="none"/>
<path d="M197.6 313 H211.4" stroke="#22303a" stroke-width="1.2" fill="none"/>
<path d="M187.6 313 L199.6 310.2 L199.6 315.8 Z" fill="#22303a"/>
<path d="M256 313 H270.5" stroke="#22303a" stroke-width="1.2" fill="none"/>
<path d="M280.5 313 L268.5 310.2 L268.5 315.8 Z" fill="#22303a"/>
<path d="M187.6 399.4 V419.2 M297 396.6 V419.2" stroke="#22303a" stroke-width="0.9" fill="none"/>
<path d="M200.8 395.3 H259.2 V406.2 H200.8 Z M259.2 395.3 L287 399.6 M259.2 406.2 L287 402.4" stroke="#22303a" stroke-width="0.9" fill="none"/>
<path d="M200.8 398 H196.5 V399.6 H189.4 Q187.6 402.8 189.4 406.2 H200.8 M192.6 399.6 V404 H196.5 V399.6" stroke="#22303a" stroke-width="0.9" fill="none"/>
<path d="M197.6 417 H211.4" stroke="#22303a" stroke-width="1.2" fill="none"/>
<path d="M187.6 417 L199.6 414.2 L199.6 419.8 Z" fill="#22303a"/>
<path d="M273 417 H287" stroke="#22303a" stroke-width="1.2" fill="none"/>
<path d="M297 417 L285 414.2 L285 419.8 Z" fill="#22303a"/>
<path d="M188 463 V486.6 M324.7 462.8 V486.6" stroke="#22303a" stroke-width="0.9" fill="none"/>
<path d="M233 463.3 H190 Q187.8 468 190 472.9 H232.4 Q234.8 472.4 234.4 470.2 Q233.4 468.6 232.2 470.2 M233 463.3 Q235 465.2 233.6 467" stroke="#22303a" stroke-width="0.9" fill="none"/>
<path d="M242 463.3 H285.4 V472.9 H242 Q239.6 472 240.4 468.4 Q242.6 467.6 242.6 465.4 Q241.4 463.4 240.2 465.4 M285.4 463.3 L314.5 466.7 M285.4 472.9 L314.5 470.2" stroke="#22303a" stroke-width="0.9" fill="none"/>
<path d="M198 484 H221" stroke="#22303a" stroke-width="1.2" fill="none"/>
<path d="M188 484 L200 481.2 L200 486.8 Z" fill="#22303a"/>
<path d="M291 484 H314.7" stroke="#22303a" stroke-width="1.2" fill="none"/>
<path d="M324.7 484 L312.7 481.2 L312.7 486.8 Z" fill="#22303a"/>
</svg>
<div class="t" style="left:134.30px;width:200px;text-align:center;top:303.00px;font-size:9.4px;font-weight:400;color:#22303a;">24<span style="margin-left:1px">mm</span></div>
<div class="t" style="left:142.80px;width:200px;text-align:center;top:407.00px;font-size:9.8px;font-weight:400;color:#22303a;">26 mm</div>
<div class="t" style="left:156.30px;width:200px;text-align:center;top:474.00px;font-size:9.4px;font-weight:400;color:#22303a;">44,5<span style="margin-left:1px">mm</span></div>
</body></html>
